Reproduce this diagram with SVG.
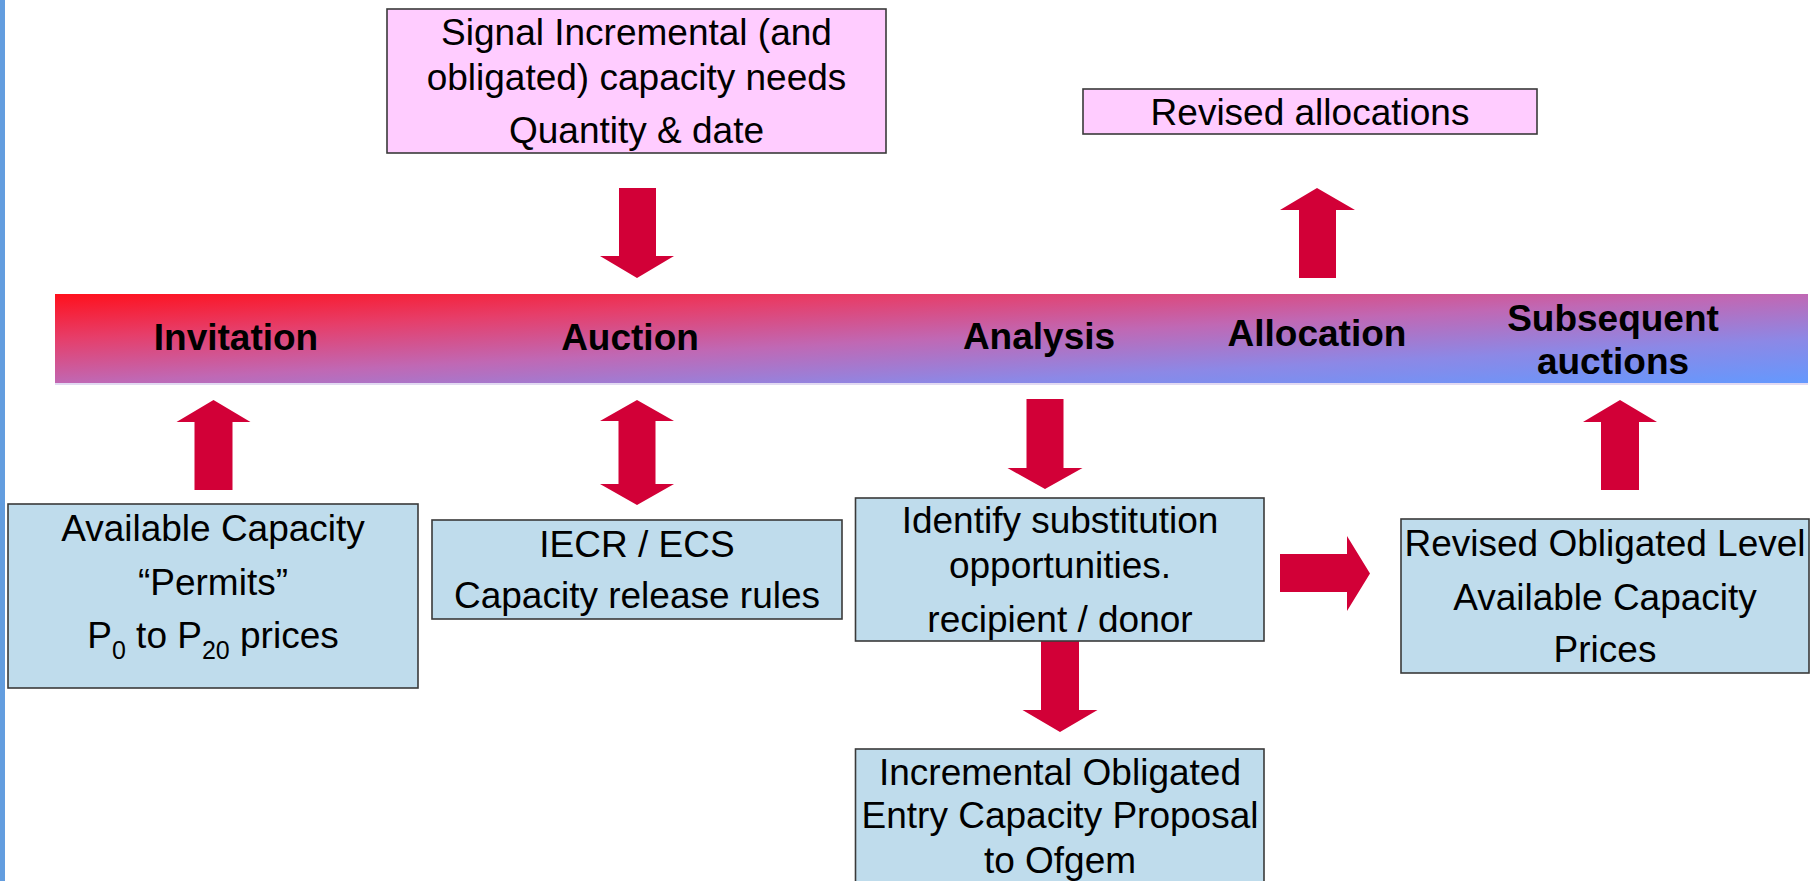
<svg xmlns="http://www.w3.org/2000/svg" width="1820" height="881" viewBox="0 0 1820 881">
<defs>
<linearGradient id="band" x1="0" y1="0" x2="1" y2="1">
<stop offset="0" stop-color="#ff101c"/>
<stop offset="0.25" stop-color="#e63e6a"/>
<stop offset="0.5" stop-color="#c068b4"/>
<stop offset="0.75" stop-color="#8c88e6"/>
<stop offset="1" stop-color="#6399fe"/>
</linearGradient>
</defs>
<style>
.blue{fill:#bfdcec;stroke:#3a3a3a;stroke-width:1.6}
.pink{fill:#ffccff;stroke:#3a3a3a;stroke-width:1.6}
.t{font-family:"Liberation Sans",Arial,sans-serif;font-size:37px;fill:#000;text-anchor:middle}
.b{font-family:"Liberation Sans",Arial,sans-serif;font-size:37px;font-weight:bold;fill:#000;text-anchor:middle}
.arr{fill:#d20037}
</style>
<rect width="1820" height="881" fill="#ffffff"/>
<rect x="0" y="0" width="5" height="881" fill="#639ddf"/>

<g id="band-timeline">
<rect x="55" y="294" width="1753" height="90" fill="url(#band)"/>
<rect x="55" y="383" width="1753" height="2" fill="#e2daf2"/>
<text class="b" x="236" y="350">Invitation</text>
<text class="b" x="630" y="350">Auction</text>
<text class="b" x="1039" y="349">Analysis</text>
<text class="b" x="1317" y="346">Allocation</text>
<text class="b" x="1613" y="331">Subsequent</text>
<text class="b" x="1613" y="374">auctions</text>
</g>

<g id="connectors">
<polygon class="arr" points="619,188 656,188 656,256 674,256 637,278 600,256 619,256"/>
<polygon class="arr" points="1317,188 1355,210 1336,210 1336,278 1299,278 1299,210 1280,210"/>
<polygon class="arr" points="213.5,400 250.5,422 232.5,422 232.5,490 194.5,490 194.5,422 176.5,422"/>
<polygon class="arr" points="637,400 674,421 655.5,421 655.5,484 674,484 637,505 600,484 618.5,484 618.5,421 600,421"/>
<polygon class="arr" points="1026.5,399 1063.5,399 1063.5,468 1082.5,468 1045,489 1007.5,468 1026.5,468"/>
<polygon class="arr" points="1620,400 1657,422 1639,422 1639,490 1601,490 1601,422 1583,422"/>
<polygon class="arr" points="1041,641 1079,641 1079,710 1097.5,710 1060,732 1022.5,710 1041,710"/>
<polygon class="arr" points="1280,554 1347,554 1347,536 1370,573.5 1347,611 1347,592 1280,592"/>
</g>

<g id="node-signal">
<rect class="pink" x="387" y="9" width="499" height="144"/>
<text class="t" x="636.5" y="45">Signal Incremental (and</text>
<text class="t" x="636.5" y="90">obligated) capacity needs</text>
<text class="t" x="636.5" y="143">Quantity &amp; date</text>
</g>

<g id="node-revised-allocations">
<rect class="pink" x="1083" y="89" width="454" height="45"/>
<text class="t" x="1310" y="125">Revised allocations</text>
</g>

<g id="node-available-capacity">
<rect class="blue" x="8" y="504" width="410" height="184"/>
<text class="t" x="213" y="541">Available Capacity</text>
<text class="t" x="213" y="595">“Permits”</text>
<text class="t" x="213" y="648">P<tspan font-size="25" dy="11">0</tspan><tspan dy="-11"> to P</tspan><tspan font-size="25" dy="11">20</tspan><tspan dy="-11"> prices</tspan></text>
</g>

<g id="node-iecr">
<rect class="blue" x="432" y="520" width="410" height="99"/>
<text class="t" x="637" y="557">IECR / ECS</text>
<text class="t" x="637" y="608">Capacity release rules</text>
</g>

<g id="node-identify">
<rect class="blue" x="855.5" y="498" width="408.5" height="143"/>
<text class="t" x="1060" y="533">Identify substitution</text>
<text class="t" x="1060" y="578">opportunities.</text>
<text class="t" x="1060" y="632">recipient / donor</text>
</g>

<g id="node-incremental-proposal">
<rect class="blue" x="855.5" y="749" width="408.5" height="150"/>
<text class="t" x="1060" y="785">Incremental Obligated</text>
<text class="t" x="1060" y="828">Entry Capacity Proposal</text>
<text class="t" x="1060" y="873">to Ofgem</text>
</g>

<g id="node-revised-obligated">
<rect class="blue" x="1401" y="519" width="408" height="154"/>
<text class="t" x="1605" y="556">Revised Obligated Level</text>
<text class="t" x="1605" y="610">Available Capacity</text>
<text class="t" x="1605" y="662">Prices</text>
</g>
</svg>
